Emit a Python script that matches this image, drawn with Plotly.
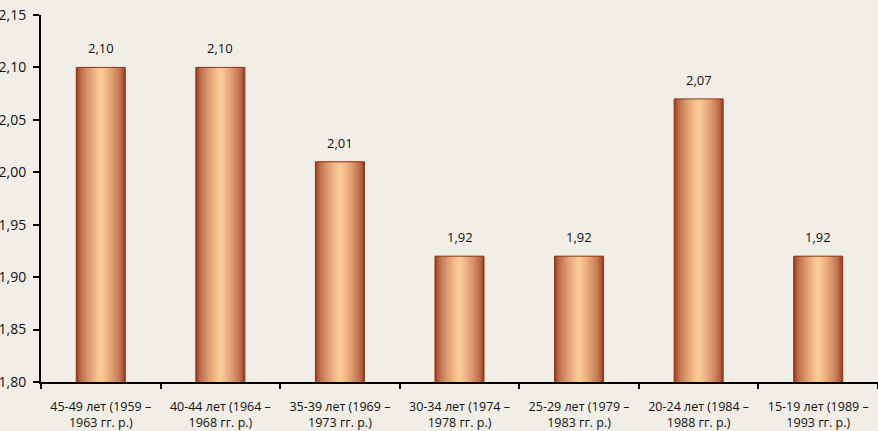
import plotly.graph_objects as go

categories = [
    "45-49 лет (1959 –<br>1963 гг. р.)",
    "40-44 лет (1964 –<br>1968 гг. р.)",
    "35-39 лет (1969 –<br>1973 гг. р.)",
    "30-34 лет (1974 –<br>1978 гг. р.)",
    "25-29 лет (1979 –<br>1983 гг. р.)",
    "20-24 лет (1984 –<br>1988 гг. р.)",
    "15-19 лет (1989 –<br>1993 гг. р.)",
]
values = [2.10, 2.10, 2.01, 1.92, 1.92, 2.07, 1.92]
y_ticks = [1.80, 1.85, 1.90, 1.95, 2.00, 2.05, 2.10, 2.15]

FONT = "Open Sans"
BG = "#F1EDE7"
EDGE = (156, 60, 30)
CENTER = (253, 202, 152)
BAR_W = 0.41
N = 16

fig = go.Figure()
for i in range(N):
    f = i / (N - 1)
    g = f ** 0.6
    col = tuple(int(EDGE[k] + (CENTER[k] - EDGE[k]) * g) for k in range(3))
    w = BAR_W * (1 - i / N)
    fig.add_trace(go.Bar(
        x=categories, y=values, width=w,
        marker=dict(color="rgb(%d,%d,%d)" % col, line=dict(width=0)),
        hoverinfo="skip", showlegend=False,
    ))

fig.add_trace(go.Bar(
    x=categories, y=values, width=BAR_W,
    marker=dict(color="rgba(0,0,0,0)", line=dict(color="#8E3819", width=1)),
    showlegend=False,
))

for c, v in zip(categories, values):
    fig.add_annotation(
        x=c, y=v, text=f"{v:.2f}".replace(".", ","), showarrow=False,
        yshift=19, font=dict(family=FONT, size=13, color="#111111"),
    )

fig.update_layout(
    barmode="overlay",
    width=878, height=431,
    margin=dict(l=41, r=0, t=15, b=49),
    paper_bgcolor=BG, plot_bgcolor=BG,
    separators=", ",
    font=dict(family=FONT, size=12, color="#111111"),
    xaxis=dict(
        showline=True, linecolor="black", linewidth=2, automargin=False,
        ticks="outside", tickson="boundaries", ticklen=5, tickcolor="black", tickwidth=2,
        tickfont=dict(family=FONT, size=12.5), showgrid=False, ticklabelstandoff=12,
    ),
    yaxis=dict(
        range=[1.80, 2.15], tickvals=y_ticks, tickformat=".2f", automargin=False,
        showline=True, linecolor="black", linewidth=2,
        ticks="outside", ticklen=6, tickcolor="black", tickwidth=2, ticklabelstandoff=4,
        showgrid=False, zeroline=False, tickfont=dict(family=FONT, size=14),
    ),
)

fig.write_html(
    "out.html",
    config={"displayModeBar": False},
    post_script="document.body.style.margin='0';document.body.style.overflow='hidden';",
)
